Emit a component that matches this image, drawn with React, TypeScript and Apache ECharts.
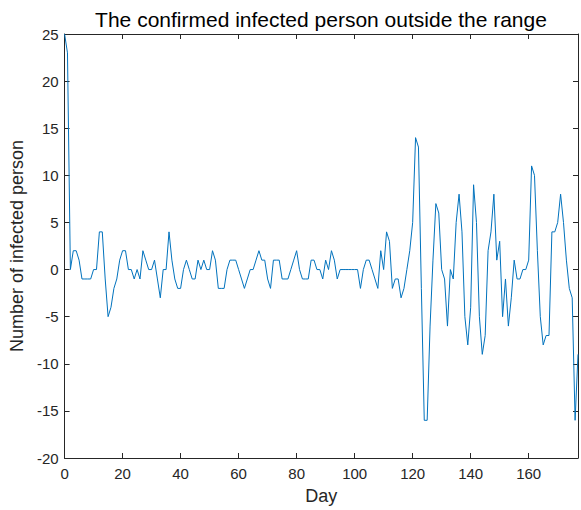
import React, { useEffect, useRef } from "react";
import * as echarts from "echarts";

const titleText = "The confirmed infected person outside the range";
const xName = "Day";
const yName = "Number of infected person";
const xTicks = [0, 20, 40, 60, 80, 100, 120, 140, 160];
const yTicks = [-20, -15, -10, -5, 0, 5, 10, 15, 20, 25];

// infected persons outside the range, one value per day starting at day 0
const infected = [
  25, 23, 0, 2, 2, 1, -1, -1, -1, -1,
  0, 0, 4, 4, -1, -5, -4, -2, -1, 1,
  2, 2, 0, 0, -1, 0, -1, 2, 1, 0,
  0, 1, -1, -3, 0, 0, 4, 1, -1, -2,
  -2, 0, 1, 0, -1, -1, 1, 0, 1, 0,
  0, 2, 1, -2, -2, -2, 0, 1, 1, 1,
  0, -1, -2, -1, 0, 0, 1, 2, 1, 1,
  -1, -2, 1, 1, 1, -1, -1, -1, 0, 1,
  2, 0, -1, -1, -1, 1, 1, 0, 0, -1,
  1, 0, 2, 1, -1, 0, 0, 0, 0, 0,
  0, 0, -2, 0, 1, 1, 0, -1, -2, 2,
  0, 4, 3, -2, -1, -1, -3, -2, 0, 2,
  5, 14, 13, -2, -16, -16, -6, 1, 7, 6,
  0, -1, -6, 0, -1, 5, 8, 4, -5, -8,
  -4, 9, 5, -5, -9, -7, 2, 4, 8, 1,
  3, -5, -1, -6, -3, 1, -1, -1, 0, 0,
  1, 11, 10, 2, -5, -8, -7, -7, 4, 4,
  5, 8, 5, 1, -2, -3, -16, -9,
];

const FONT = "'Liberation Sans', Arial, Helvetica, sans-serif";
const AXIS_COLOR = "#262626";

export default function App() {
  const ref = useRef<HTMLDivElement>(null);

  useEffect(() => {
    if (!ref.current) return;
    const chart = echarts.init(ref.current, undefined, { renderer: "svg" });
    const xMin = xTicks[0];
    const xMax = infected.length - 1;
    const yMin = yTicks[0];
    const yMax = yTicks[yTicks.length - 1];
    const lineStyle = { color: AXIS_COLOR, width: 1 };
    const labelFmt = (step: number) => (v: number) => (v % step === 0 ? String(v) : "");

    const baseX = {
      type: "value" as const,
      min: xMin,
      max: xMax,
      interval: 20,
      splitLine: { show: false },
      axisLine: { show: true, onZero: false, lineStyle },
      axisTick: { show: true, inside: true, length: 5, lineStyle },
    };
    const baseY = {
      type: "value" as const,
      min: yMin,
      max: yMax,
      interval: 5,
      splitLine: { show: false },
      axisLine: { show: true, onZero: false, lineStyle },
      axisTick: { show: true, inside: true, length: 5, lineStyle },
    };

    chart.setOption({
      animation: false,
      backgroundColor: "#ffffff",
      grid: { left: 63, right: 1, top: 34, bottom: 50, containLabel: false },
      graphic: [
        {
          type: "text",
          x: 321,
          y: 19,
          style: {
            text: titleText,
            fontSize: 21,
            fontFamily: FONT,
            fill: "#000000",
            textAlign: "center",
            textVerticalAlign: "middle",
          },
        },
      ],
      xAxis: [
        {
          ...baseX,
          position: "bottom",
          name: xName,
          nameLocation: "middle",
          nameGap: 29,
          nameTextStyle: { fontSize: 18, fontFamily: FONT, color: AXIS_COLOR },
          axisLabel: {
            show: true,
            margin: 8,
            fontSize: 15,
            fontFamily: FONT,
            color: AXIS_COLOR,
            formatter: labelFmt(20),
          },
        },
        { ...baseX, position: "top", axisLabel: { show: false } },
      ],
      yAxis: [
        {
          ...baseY,
          position: "left",
          name: yName,
          nameLocation: "middle",
          nameGap: 38,
          nameTextStyle: { fontSize: 18, fontFamily: FONT, color: AXIS_COLOR },
          axisLabel: {
            show: true,
            margin: 6,
            fontSize: 15,
            fontFamily: FONT,
            color: AXIS_COLOR,
            formatter: labelFmt(5),
          },
        },
        { ...baseY, position: "right", axisLabel: { show: false } },
      ],
      series: [
        {
          type: "line",
          xAxisIndex: 0,
          yAxisIndex: 0,
          data: infected.map((v, i) => [i, v]),
          showSymbol: false,
          symbol: "none",
          clip: true,
          lineStyle: { color: "#0072BD", width: 1 },
          itemStyle: { color: "#0072BD" },
        },
      ],
    });
    return () => chart.dispose();
  }, []);

  return (
    <div
      ref={ref}
      style={{ position: "fixed", left: 0, top: 0, width: 581, height: 510, background: "#fff" }}
    />
  );
}
